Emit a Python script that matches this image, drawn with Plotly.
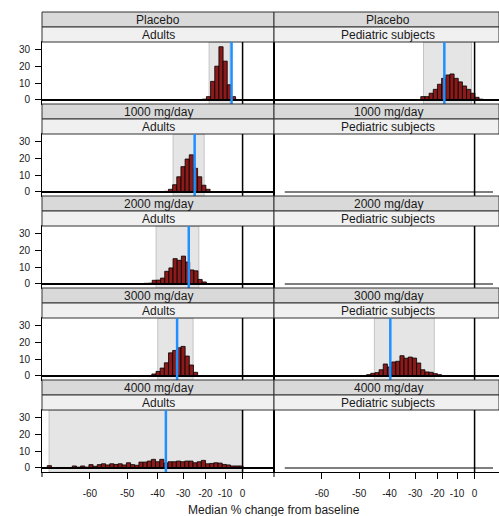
import numpy as np
import plotly.graph_objects as go

# ---------------- data ----------------
doses = ["Placebo", "1000 mg/day", "2000 mg/day", "3000 mg/day", "4000 mg/day"]
populations = ["Adults", "Pediatric subjects"]
x_tick_pct = [-60, -50, -40, -30, -20, -10, 0]
y_tick_vals = [0, 10, 20, 30]
BIN_W = 0.025  # histogram bin width (log-ratio units)

# histogram: left edge of first bin (% change) and bar heights
placebo_adults_start = -21.5
placebo_adults_counts = [0.5, 2, 11, 20, 31.5, 23, 9, 2]
placebo_ped_start = -27.6
placebo_ped_counts = [2, 2, 4, 6.3, 9.3, 12.8, 14.8, 15.4, 12.8, 10.7, 8.3, 6.3, 4, 1.6, 0.5]
d1000_adults_start = -37.5
d1000_adults_counts = [0.4, 1.6, 4.3, 9, 15, 19.5, 22, 14, 9, 4, 1.6]
d2000_adults_start = -44.7
d2000_adults_counts = [0.4, 0.5, 2.2, 2.3, 3.5, 7.5, 9.5, 15, 14, 16.5, 13, 8.3, 7.8, 2.7, 1.2]
d3000_adults_start = -42.0
d3000_adults_counts = [1.2, 2.7, 4.7, 7.8, 13.7, 15.1, 16.7, 17.5, 11.8, 6.5, 2.2]
d3000_ped_start = -47.7
d3000_ped_counts = [0.8, 1.6, 2, 3.7, 7.1, 5.3, 8.3, 8.7, 12, 10.5, 11.2, 10.6, 7.7, 3.7, 2.4, 2.2, 1.4, 0.8]
d4000_adults_start = -69.8
d4000_adults_counts = [0.3, 1.4, 0.3, 0.3, 0.3, 0.3, 0.3, 1.2, 0.5, 1.2, 0.5, 2, 1, 2, 2.5, 1.8,
                       2.5, 2.1, 2.5, 1.8, 3.1, 2, 1.6, 3.5, 3.5, 4.1, 5.1, 3.7, 5.1, 2.9, 3.7, 3.7,
                       4.1, 3.7, 4.1, 4.1, 3.1, 3.7, 4.5, 2.5, 2.7, 3.1, 2.9, 2.1, 1.8, 1.2, 1.2, 1.2]

# median (blue line) and interval (grey band), % change
adults_median = [-6.4, -25.0, -27.6, -32.5, -36.9]
adults_ci_lo = [-18.2, -34.1, -40.5, -39.9, -68.7]
adults_ci_hi = [-7.3, -20.6, -23.1, -25.7, -0.2]
ped_median = [-16.6, None, None, -39.7, None]
ped_ci_lo = [-26.4, None, None, -45.2, None]
ped_ci_hi = [-1.8, None, None, -21.5, None]
empty_line_pct = [-68.0, 11.7]

hists = {
    (0, 0): (placebo_adults_start, placebo_adults_counts),
    (0, 1): (placebo_ped_start, placebo_ped_counts),
    (1, 0): (d1000_adults_start, d1000_adults_counts),
    (2, 0): (d2000_adults_start, d2000_adults_counts),
    (3, 0): (d3000_adults_start, d3000_adults_counts),
    (3, 1): (d3000_ped_start, d3000_ped_counts),
    (4, 0): (d4000_adults_start, d4000_adults_counts),
}


def tx(pct):
    return np.log1p(np.asarray(pct, dtype=float) / 100.0)


# ---------------- layout geometry ----------------
W, H = 499, 516
ML, MT, MB = 42, 12, 44
PW = W - ML
PH = H - MT - MB
ROW = 92
STRIP = 15
COLW = 232
PXU = 166.6
X_LO = float(np.log(0.3))
x_ranges = [[X_LO, X_LO + COLW / PXU], [X_LO, X_LO + (PW - COLW) / PXU]]
Y_RANGE = [-2.37, 34.3]

BAR_FILL = "#8b1a1a"
BLUE = "#1e90ff"
BAND = "#e5e5e5"
BAND_EDGE = "#c4c4c4"
STRIP1 = "#d9d9d9"
STRIP2 = "#f0f0f0"
FONT = "Liberation Sans, Arial, sans-serif"


def py(px):
    return 1 - (px - MT) / PH


def pxx(px):
    return (px - ML) / PW


fig = go.Figure()
layout = dict(width=W, height=H, margin=dict(l=ML, r=0, t=MT, b=MB, autoexpand=False),
              paper_bgcolor="white", plot_bgcolor="white", showlegend=False,
              font=dict(family=FONT, color="#1a1a1a"), hovermode=False)
shapes = []
annotations = []

col_dom = [[0, COLW / PW], [COLW / PW, 1]]
col_center_px = [ML + COLW / 2, ML + COLW + COLW / 2 - 2]

for r in range(5):
    top = ROW * r
    for c in range(2):
        k = r * 2 + c + 1
        xa = "x" if k == 1 else f"x{k}"
        ya = "y" if k == 1 else f"y{k}"
        xkey = "xaxis" if k == 1 else f"xaxis{k}"
        ykey = "yaxis" if k == 1 else f"yaxis{k}"
        ydom = [1 - (top + ROW) / PH, 1 - (top + 2 * STRIP) / PH]
        bottom = r == 4
        layout[xkey] = dict(domain=col_dom[c], range=x_ranges[c], anchor=ya, automargin=False,
                            showgrid=False, zeroline=False, showline=True, mirror=True,
                            linecolor="black", linewidth=1,
                            tickvals=list(tx(x_tick_pct)) if bottom else [],
                            ticktext=[str(v) for v in x_tick_pct] if bottom else [],
                            ticks="outside" if bottom else "", ticklen=6, tickcolor="black",
                            ticklabelstandoff=6,
                            tickfont=dict(size=10, color="#1a1a1a"), fixedrange=True)
        layout[ykey] = dict(domain=ydom, range=Y_RANGE, anchor=xa, automargin=False,
                            showgrid=False, zeroline=False, showline=True, mirror=True,
                            linecolor="black", linewidth=1,
                            tickvals=y_tick_vals if c == 0 else [],
                            ticks="outside" if c == 0 else "", ticklen=6, tickcolor="black",
                            showticklabels=(c == 0), ticklabelstandoff=3,
                            tickfont=dict(size=10, color="#1a1a1a"), fixedrange=True)

        # strips
        x0p, x1p = col_dom[c]
        shapes.append(dict(type="rect", xref="paper", yref="paper", x0=x0p, x1=x1p,
                           y0=py(MT + top + STRIP), y1=py(MT + top),
                           fillcolor=STRIP1, line=dict(color="#333333", width=1), layer="above"))
        shapes.append(dict(type="rect", xref="paper", yref="paper", x0=x0p, x1=x1p,
                           y0=py(MT + top + 2 * STRIP), y1=py(MT + top + STRIP),
                           fillcolor=STRIP2, line=dict(color="#333333", width=1), layer="above"))
        annotations.append(dict(xref="paper", yref="paper", x=pxx(col_center_px[c]),
                                y=py(MT + top + STRIP / 2 + 0.5), text=doses[r], showarrow=False,
                                font=dict(size=12, color="#1a1a1a"), xanchor="center", yanchor="middle"))
        annotations.append(dict(xref="paper", yref="paper", x=pxx(col_center_px[c]),
                                y=py(MT + top + 1.5 * STRIP + 0.5), text=populations[c], showarrow=False,
                                font=dict(size=12, color="#1a1a1a"), xanchor="center", yanchor="middle"))

        yd = f"{ya} domain"
        if c == 0:
            med, lo, hi = adults_median[r], adults_ci_lo[r], adults_ci_hi[r]
        else:
            med, lo, hi = ped_median[r], ped_ci_lo[r], ped_ci_hi[r]

        if (r, c) in hists:
            start, counts = hists[(r, c)]
            e0 = tx(start)
            centers = e0 + (np.arange(len(counts)) + 0.5) * BIN_W
            shapes.append(dict(type="rect", xref=xa, yref=yd, x0=float(tx(lo)), x1=float(tx(hi)),
                               y0=0, y1=1, fillcolor=BAND, line=dict(color=BAND_EDGE, width=1),
                               layer="below"))
            fig.add_trace(go.Bar(x=centers, y=counts, width=BIN_W, xaxis=xa, yaxis=ya,
                                 marker=dict(color=BAR_FILL, line=dict(color="black", width=0.8))))
            shapes.append(dict(type="line", xref=f"{xa} domain", yref=ya, x0=0, x1=1, y0=0, y1=0,
                               line=dict(color="black", width=2.2), layer="above"))
            shapes.append(dict(type="line", xref=xa, yref=yd, x0=float(tx(med)), x1=float(tx(med)),
                               y0=0, y1=1, line=dict(color=BLUE, width=2.5), layer="above"))
        else:
            fig.add_trace(go.Bar(x=[], y=[], xaxis=xa, yaxis=ya))
            shapes.append(dict(type="line", xref=xa, yref=ya, x0=float(tx(empty_line_pct[0])),
                               x1=float(tx(empty_line_pct[1])), y0=0, y1=0,
                               line=dict(color="#555555", width=1.5), layer="above"))
        shapes.append(dict(type="line", xref=xa, yref=yd, x0=0, x1=0, y0=0, y1=1,
                           line=dict(color="black", width=1.5), layer="above"))

# small marks at panel edges under the bottom row
for xp in [ML, ML + COLW]:
    shapes.append(dict(type="line", xref="paper", yref="paper", x0=pxx(xp), x1=pxx(xp),
                       y0=py(H - MB), y1=py(H - MB + 5), line=dict(color="black", width=1)))

annotations.append(dict(xref="paper", yref="paper", x=pxx(ML + COLW), y=py(510),
                        text="Median % change from baseline", showarrow=False,
                        font=dict(size=12, color="#1a1a1a"), xanchor="center", yanchor="middle"))

layout["shapes"] = shapes
layout["annotations"] = annotations
layout["barmode"] = "overlay"
fig.update_layout(**layout)
fig.write_html("out.html", config={"displayModeBar": False, "staticPlot": True},
               post_script="document.body.style.margin='0';document.body.style.overflow='hidden';")
